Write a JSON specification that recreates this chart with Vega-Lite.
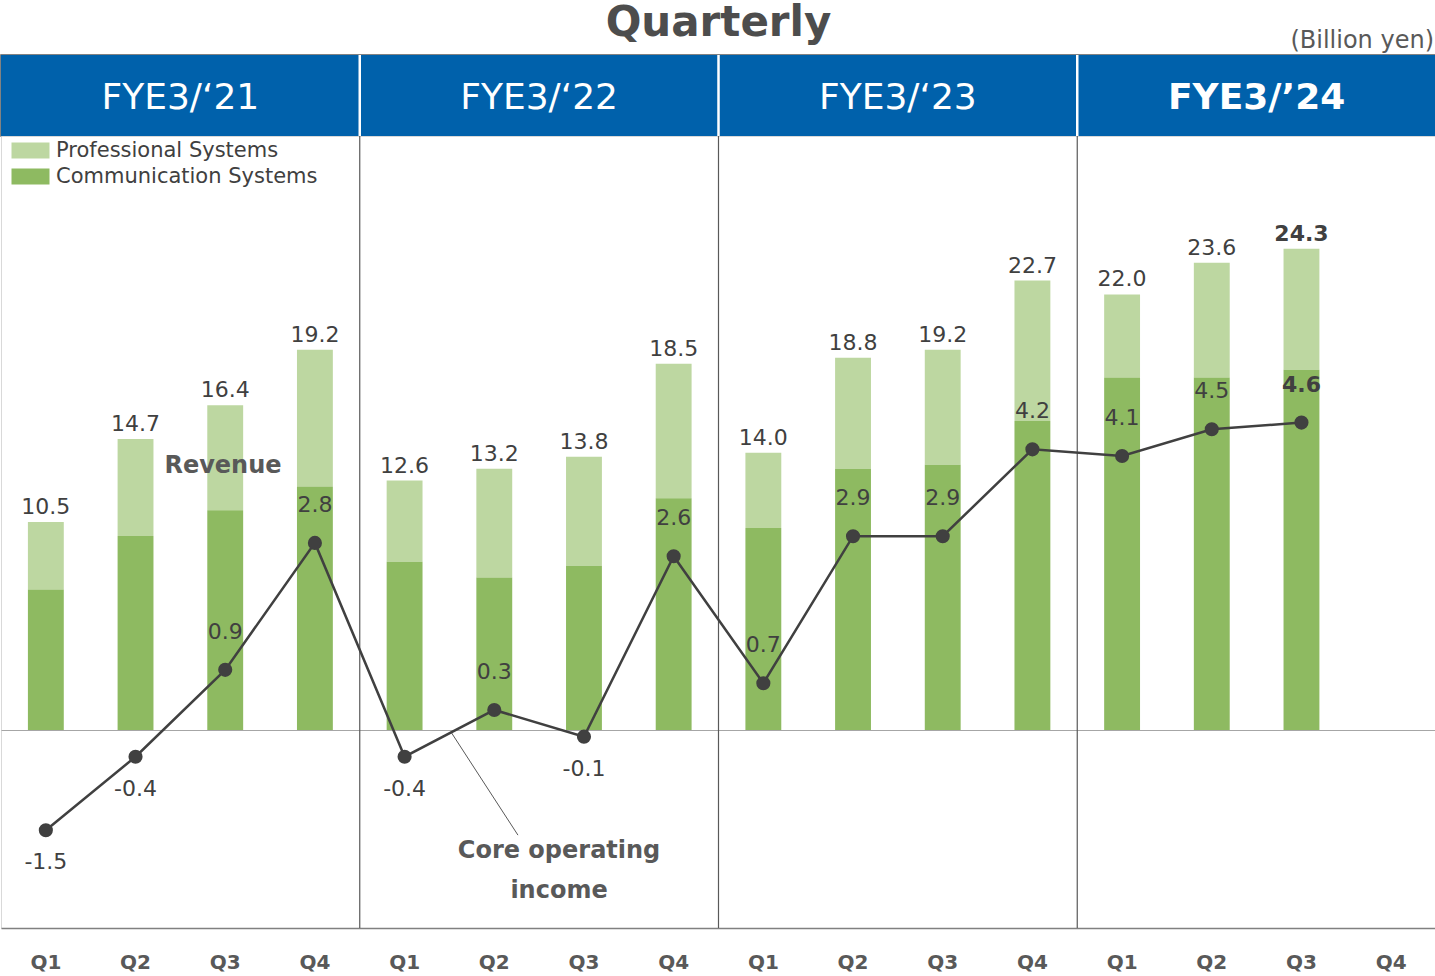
{
  "$schema": "https://vega.github.io/schema/vega-lite/v6.json",
  "padding": {"left": 0, "top": 0, "right": 0, "bottom": 48},
  "spacing": 0,
  "bounds": "flush",
  "config": {"font": "DejaVu Sans", "view": {"stroke": null}},
  "datasets": {
    "years": [{"fy": "FYE3/‘21"}, {"fy": "FYE3/‘22"}, {"fy": "FYE3/‘23"}, {"fy": "FYE3/’24"}],
    "quarters": [
      {"q": "FY21 Q1", "total": 10.5, "Communication Systems": 7.1, "Professional Systems": 3.4, "oi": -1.5},
      {"q": "FY21 Q2", "total": 14.7, "Communication Systems": 9.8, "Professional Systems": 4.9, "oi": -0.4},
      {"q": "FY21 Q3", "total": 16.4, "Communication Systems": 11.1, "Professional Systems": 5.3, "oi": 0.9},
      {"q": "FY21 Q4", "total": 19.2, "Communication Systems": 12.3, "Professional Systems": 6.9, "oi": 2.8},
      {"q": "FY22 Q1", "total": 12.6, "Communication Systems": 8.5, "Professional Systems": 4.1, "oi": -0.4},
      {"q": "FY22 Q2", "total": 13.2, "Communication Systems": 7.7, "Professional Systems": 5.5, "oi": 0.3},
      {"q": "FY22 Q3", "total": 13.8, "Communication Systems": 8.3, "Professional Systems": 5.5, "oi": -0.1},
      {"q": "FY22 Q4", "total": 18.5, "Communication Systems": 11.7, "Professional Systems": 6.8, "oi": 2.6},
      {"q": "FY23 Q1", "total": 14.0, "Communication Systems": 10.2, "Professional Systems": 3.8, "oi": 0.7},
      {"q": "FY23 Q2", "total": 18.8, "Communication Systems": 13.2, "Professional Systems": 5.6, "oi": 2.9},
      {"q": "FY23 Q3", "total": 19.2, "Communication Systems": 13.4, "Professional Systems": 5.8, "oi": 2.9},
      {"q": "FY23 Q4", "total": 22.7, "Communication Systems": 15.6, "Professional Systems": 7.1, "oi": 4.2},
      {"q": "FY24 Q1", "total": 22.0, "Communication Systems": 17.8, "Professional Systems": 4.2, "oi": 4.1},
      {"q": "FY24 Q2", "total": 23.6, "Communication Systems": 17.8, "Professional Systems": 5.8, "oi": 4.5},
      {"q": "FY24 Q3", "total": 24.3, "Communication Systems": 18.2, "Professional Systems": 6.1, "oi": 4.6}
    ]
  },
  "vconcat": [
    {
      "width": 1435,
      "height": 55,
      "data": {"values": [{}]},
      "layer": [
        {"mark": {"type": "text", "text": "Quarterly", "fontSize": 42, "fontWeight": "bold", "color": "#4d4d4d", "baseline": "alphabetic", "dy": 8}, "encoding": {}},
        {"mark": {"type": "text", "text": "(Billion yen)", "fontSize": 24, "color": "#595959", "align": "right", "baseline": "alphabetic", "x": "width", "dx": -2, "dy": 20}, "encoding": {}}
      ]
    },
    {
      "width": 1435,
      "height": 81,
      "data": {"name": "years"},
      "view": {"stroke": "#595959", "strokeWidth": 1.5},
      "encoding": {"x": {"field": "fy", "type": "nominal", "sort": null, "axis": null, "scale": {"paddingInner": 0, "paddingOuter": 0}}},
      "layer": [
        {"mark": {"type": "rect", "color": "#0061ab"}},
        {"transform": [{"filter": "datum.fy != 'FYE3/‘21'"}], "mark": {"type": "rule", "color": "white", "strokeWidth": 2.5}, "encoding": {"x": {"field": "fy", "type": "nominal", "sort": null, "bandPosition": 0}}},
        {"transform": [{"filter": "datum.fy != 'FYE3/’24'"}], "mark": {"type": "text", "color": "white", "fontSize": 36, "baseline": "middle", "dy": 2}, "encoding": {"text": {"field": "fy"}}},
        {"transform": [{"filter": "datum.fy == 'FYE3/’24'"}], "mark": {"type": "text", "color": "white", "fontSize": 36, "fontWeight": "bold", "baseline": "middle", "dy": 2}, "encoding": {"text": {"field": "fy"}}}
      ]
    },
    {
      "width": 1435,
      "height": 792,
      "data": {"name": "quarters"},
      "view": {"stroke": "#d9d9d9"},
      "encoding": {
        "x": {
          "field": "q", "type": "nominal", "sort": null,
          "scale": {"domain": ["FY21 Q1","FY21 Q2","FY21 Q3","FY21 Q4","FY22 Q1","FY22 Q2","FY22 Q3","FY22 Q4","FY23 Q1","FY23 Q2","FY23 Q3","FY23 Q4","FY24 Q1","FY24 Q2","FY24 Q3","FY24 Q4"], "paddingInner": 0, "paddingOuter": 0},
          "axis": {"labelExpr": "slice(datum.label, -2)", "title": null, "ticks": false, "labelAngle": 0, "domainColor": "#808080", "domainWidth": 1.5, "labelFontSize": 20, "labelFontWeight": "bold", "labelColor": "#595959", "labelPadding": 24, "labelFont": "DejaVu Sans"}
        }
      },
      "layer": [
        {
          "layer": [
            {
              "transform": [{"fold": ["Professional Systems", "Communication Systems"], "as": ["seg", "val"]}],
              "mark": {"type": "bar", "width": {"band": 0.4}},
              "encoding": {
                "y": {"field": "val", "type": "quantitative", "stack": "zero", "scale": {"domain": [-10, 30], "nice": false}, "axis": {"values": [0], "grid": true, "gridColor": "#a6a6a6", "gridWidth": 1.2, "labels": false, "ticks": false, "domain": false, "title": null}},
                "color": {"field": "seg", "type": "nominal", "scale": {"domain": ["Professional Systems", "Communication Systems"], "range": ["#bdd7a1", "#8eba61"]},
                  "legend": {"orient": "none", "legendX": 19, "legendY": 140, "title": null, "symbolType": "M-2,-0.84H2V0.84H-2Z", "symbolSize": 361, "symbolStrokeWidth": 0, "labelFontSize": 21, "labelColor": "#404040", "labelOffset": 15, "labelLimit": 0, "rowPadding": 4, "padding": 0, "labelFont": "DejaVu Sans"}},
                "order": {"field": "seg", "sort": "ascending"}
              }
            },
            {
              "transform": [{"filter": "datum.q == 'FY22 Q1' || datum.q == 'FY23 Q1' || datum.q == 'FY24 Q1'"}],
              "mark": {"type": "rule", "color": "#595959", "strokeWidth": 1.2},
              "encoding": {"x": {"field": "q", "type": "nominal", "sort": null, "bandPosition": 0}}
            },
            {
              "transform": [{"filter": "datum.q != 'FY24 Q3'"}],
              "mark": {"type": "text", "dy": -15, "fontSize": 22, "color": "#404040", "baseline": "middle"},
              "encoding": {"y": {"field": "total", "type": "quantitative"}, "text": {"field": "total", "type": "quantitative", "format": ".1f"}}
            },
            {
              "transform": [{"filter": "datum.q == 'FY24 Q3'"}],
              "mark": {"type": "text", "dy": -15, "fontSize": 22, "fontWeight": "bold", "color": "#404040", "baseline": "middle"},
              "encoding": {"y": {"field": "total", "type": "quantitative"}, "text": {"field": "total", "type": "quantitative", "format": ".1f"}}
            },
            {
              "data": {"values": [{}]},
              "mark": {"type": "text", "text": "Revenue", "fontSize": 24, "fontWeight": "bold", "color": "#595959", "baseline": "middle"},
              "encoding": {"x": {"datum": "FY21 Q3", "type": "nominal", "bandPosition": 0.475}, "y": {"datum": 13.35, "type": "quantitative"}}
            },
            {
              "data": {"values": [{}]},
              "mark": {"type": "text", "text": ["Core operating", "income"], "lineHeight": 40, "fontSize": 24, "fontWeight": "bold", "color": "#595959", "baseline": "middle"},
              "encoding": {"x": {"datum": "FY22 Q3", "type": "nominal", "bandPosition": 0.222}, "y": {"datum": -6.09, "type": "quantitative"}}
            },
            {
              "data": {"values": [{}]},
              "mark": {"type": "rule", "color": "#595959", "strokeWidth": 1},
              "encoding": {
                "x": {"datum": "FY22 Q2", "type": "nominal", "bandPosition": 0.017},
                "x2": {"datum": "FY22 Q2", "bandPosition": 0.764},
                "y": {"datum": -0.1, "type": "quantitative"},
                "y2": {"datum": -5.31}
              }
            }
          ]
        },
        {
          "layer": [
            {
              "mark": {"type": "line", "color": "#404040", "strokeWidth": 2.5},
              "encoding": {"y": {"field": "oi", "type": "quantitative", "scale": {"domain": [-2.963, 8.889], "nice": false, "zero": false}, "axis": null}}
            },
            {
              "mark": {"type": "circle", "size": 200, "opacity": 1, "color": "#404040"},
              "encoding": {"y": {"field": "oi", "type": "quantitative"}}
            },
            {
              "transform": [{"filter": "datum.oi >= 0 && datum.q != 'FY24 Q3'"}],
              "mark": {"type": "text", "dy": -38, "fontSize": 22, "color": "#404040", "baseline": "middle"},
              "encoding": {"y": {"field": "oi", "type": "quantitative"}, "text": {"field": "oi", "type": "nominal"}}
            },
            {
              "transform": [{"filter": "datum.oi < 0"}],
              "mark": {"type": "text", "dy": 32, "fontSize": 22, "color": "#404040", "baseline": "middle"},
              "encoding": {"y": {"field": "oi", "type": "quantitative"}, "text": {"field": "oi", "type": "nominal"}}
            },
            {
              "transform": [{"filter": "datum.q == 'FY24 Q3'"}],
              "mark": {"type": "text", "dy": -38, "fontSize": 22, "fontWeight": "bold", "color": "#404040", "baseline": "middle"},
              "encoding": {"y": {"field": "oi", "type": "quantitative"}, "text": {"field": "oi", "type": "nominal"}}
            }
          ]
        }
      ],
      "resolve": {"scale": {"y": "independent"}}
    }
  ]
}
